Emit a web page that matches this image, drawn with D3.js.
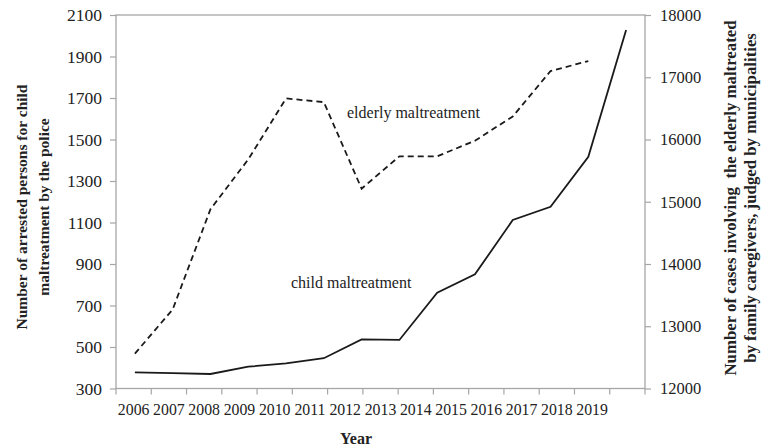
<!DOCTYPE html>
<html>
<head>
<meta charset="utf-8">
<script src="https://cdn.jsdelivr.net/npm/d3@7"></script>
<style>
  body { margin: 0; background: #fff; }
  svg { display: block; }
  svg text { font-family: "Liberation Serif", "DejaVu Serif", serif; fill: #222; }
</style>
</head>
<body>
<svg id="chart" width="761" height="446"></svg>
<script>
// Years on the horizontal axis
const years = [2006, 2007, 2008, 2009, 2010, 2011, 2012, 2013, 2014, 2015, 2016, 2017, 2018, 2019];
// Arrested persons for child maltreatment (left axis)
const childArrests = [378, 374, 370, 405, 421, 446, 537, 534, 762, 850, 1112, 1176, 1417, 2028];
// Elderly maltreatment cases by family caregivers (right axis), 2006-2018
const elderlyYears = [2006, 2007, 2008, 2009, 2010, 2011, 2012, 2013, 2014, 2015, 2016, 2017, 2018];
const elderlyCases = [12560, 13270, 14880, 15680, 16660, 16600, 15210, 15730, 15730, 15980, 16370, 17100, 17260];
// Axis tick values
const leftTicks = [300, 500, 700, 900, 1100, 1300, 1500, 1700, 1900, 2100];
const rightTicks = [12000, 13000, 14000, 15000, 16000, 17000, 18000];

const FONT = '"Liberation Serif", "DejaVu Serif", serif';
const svg = d3.select("#chart");
const P = { left: 116, right: 645, top: 15, bottom: 388.5 };
const axisColor = "#a6a6a6";
const lineColor = "#1a1a1a";

// Category slots for the axis labels: one per year plus a trailing empty slot
const slots = years.map(String).concat([""]);
const xBand = d3.scaleBand().domain(slots).range([P.left, P.right]).padding(0);
// Positions of the data points along the plot
const xLine = d3.scalePoint().domain(years).range([P.left, P.right]).padding(0.5);

const yLeft = d3.scaleLinear().domain([300, 2100]).range([P.bottom, P.top]);
const yRight = d3.scaleLinear().domain([12000, 18000]).range([P.bottom, P.top]);

// Plot frame
svg.append("rect")
  .attr("x", P.left).attr("y", P.top)
  .attr("width", P.right - P.left).attr("height", P.bottom - P.top)
  .attr("fill", "none").attr("stroke", axisColor).attr("stroke-width", 1.3);

// Left axis
const gL = svg.append("g").attr("transform", `translate(${P.left},0)`)
  .call(d3.axisLeft(yLeft).tickValues(leftTicks).tickSize(6).tickSizeOuter(0).tickPadding(8).tickFormat(d3.format("d")));
gL.attr("font-family", FONT);
gL.select(".domain").remove();
gL.selectAll(".tick line").attr("stroke", axisColor).attr("stroke-width", 1.2);
gL.selectAll(".tick text").attr("font-size", 17.5).attr("font-family", FONT).attr("fill", "#222");

// Right axis
const gR = svg.append("g").attr("transform", `translate(${P.right},0)`)
  .call(d3.axisRight(yRight).tickValues(rightTicks).tickSize(6).tickSizeOuter(0).tickPadding(9).tickFormat(d3.format("d")));
gR.attr("font-family", FONT);
gR.select(".domain").remove();
gR.selectAll(".tick line").attr("stroke", axisColor).attr("stroke-width", 1.2);
gR.selectAll(".tick text").attr("font-size", 16.5).attr("font-family", FONT).attr("fill", "#222");

// Bottom axis: tick marks on slot boundaries, labels centred in slots
const bounds = slots.map(s => xBand(s)).concat([P.right]);
svg.append("g").selectAll("line").data(bounds).join("line")
  .attr("x1", d => d).attr("x2", d => d)
  .attr("y1", P.bottom).attr("y2", P.bottom + 6)
  .attr("stroke", axisColor).attr("stroke-width", 1.2);
svg.append("g").selectAll("text").data(years).join("text")
  .attr("x", d => xBand(String(d)) + xBand.bandwidth() / 2)
  .attr("y", 415)
  .attr("text-anchor", "middle")
  .attr("font-family", FONT)
  .attr("font-size", 15.8)
  .text(d => d);

// Lines
const childLine = d3.line().x((d, i) => xLine(years[i])).y(d => yLeft(d));
const elderlyLine = d3.line().x((d, i) => xLine(elderlyYears[i])).y(d => yRight(d));

svg.append("path").datum(elderlyCases)
  .attr("d", elderlyLine)
  .attr("fill", "none").attr("stroke", lineColor).attr("stroke-width", 1.8)
  .attr("stroke-dasharray", "6,4");
svg.append("path").datum(childArrests)
  .attr("d", childLine)
  .attr("fill", "none").attr("stroke", lineColor).attr("stroke-width", 1.8);

// Series annotations
svg.append("text").attr("x", 347).attr("y", 118).attr("font-family", FONT).attr("font-size", 16).text("elderly maltreatment");
svg.append("text").attr("x", 291).attr("y", 288).attr("font-family", FONT).attr("font-size", 16).text("child maltreatment");

// Axis titles
svg.append("text").attr("x", 356).attr("y", 444).attr("text-anchor", "middle")
  .attr("font-family", FONT).attr("font-size", 16).attr("font-weight", "bold").text("Year");

const leftTitle = svg.append("text").attr("transform", "translate(27,207) rotate(-90)")
  .attr("text-anchor", "middle").attr("font-family", FONT).attr("font-size", 15.5).attr("font-weight", "bold");
leftTitle.append("tspan").attr("x", 0).attr("dy", 0).text("Number of arrested persons for child");
leftTitle.append("tspan").attr("x", 0).attr("dy", 21.6).text("maltreatment by the police");

const rightTitle = svg.append("text").attr("transform", "translate(736,198) rotate(-90)")
  .attr("text-anchor", "middle").attr("font-family", FONT).attr("font-size", 16.8).attr("font-weight", "bold")
  .attr("xml:space", "preserve").style("white-space", "pre");
rightTitle.append("tspan").attr("x", 0).attr("dy", 0).text("Number of cases involving  the elderly maltreated");
rightTitle.append("tspan").attr("x", 0).attr("dy", 20).text("by family caregivers, judged by municipalities");
</script>
</body>
</html>
